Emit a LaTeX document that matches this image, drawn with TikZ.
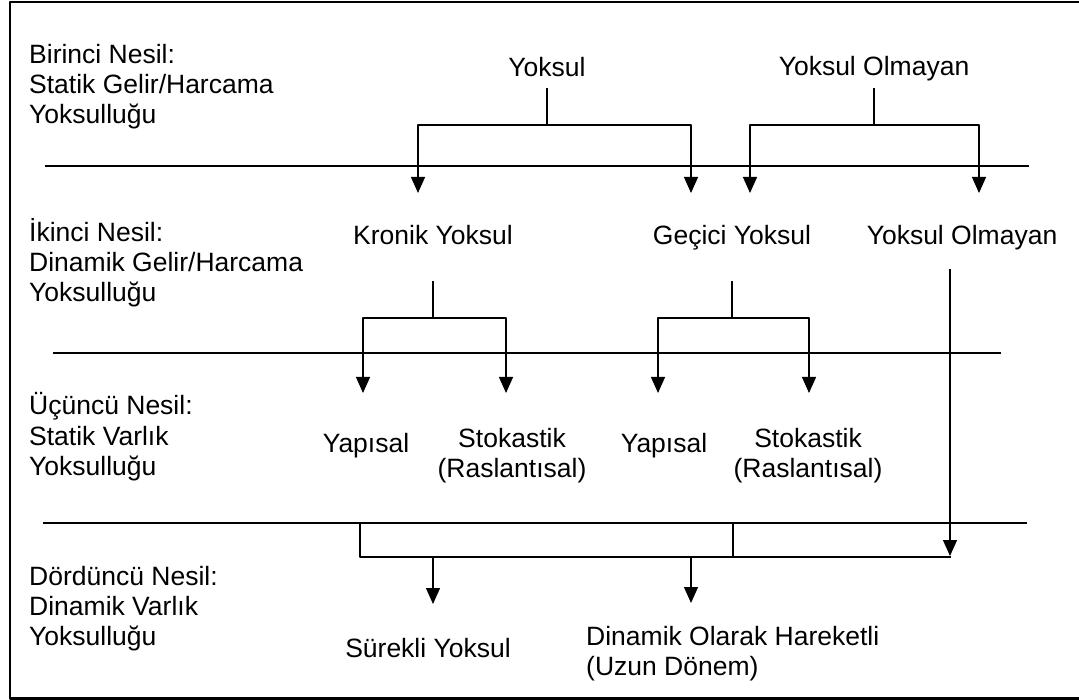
\documentclass[tikz,border=0pt]{standalone}
\usepackage{fontspec}
\setmainfont{Liberation Sans}
\usetikzlibrary{arrows.meta}
\tikzset{
  txt/.style={inner sep=0pt, anchor=base, text depth=0pt},
  stk/.style={inner sep=0pt, anchor=base, align=center},
  lbl/.style={inner sep=0pt, anchor=base west, align=left},
  conn/.style={line width=1.3pt},
  arr/.style={conn, -{Triangle[width=14pt,length=16pt]}},
  sep/.style={line width=1.4pt},
}
\begin{document}
\begin{tikzpicture}[x=1pt, y=-1pt, line join=round, font=\fontsize{26.5}{30}\selectfont]
\useasboundingbox (0,0) rectangle (1079,700);
\draw[line width=2.6pt] (10,2) rectangle (1100,698.5);
% nesil etiketleri (base = son satir)
\node[lbl] (nesil1) at (29,124) {Birinci Nesil:\\Statik Gelir/Harcama\\Yoksulluğu};
\node[lbl] (nesil2) at (29,302) {İkinci Nesil:\\Dinamik Gelir/Harcama\\Yoksulluğu};
\node[lbl] (nesil3) at (29,475) {Üçüncü Nesil:\\Statik Varlık\\Yoksulluğu};
\node[lbl] (nesil4) at (29,645) {Dördüncü Nesil:\\Dinamik Varlık\\Yoksulluğu};
% ayirici cizgiler
\draw[sep] (45,166) -- (1029,166);
\draw[sep] (53,353) -- (1001,353);
\draw[sep] (43,523) -- (1027,523);
% kategoriler
\node[txt] (yoksul) at (547,77) {Yoksul};
\node[txt] (olmayan) at (874,76) {Yoksul Olmayan};
\node[txt] (kronik) at (433,245) {Kronik Yoksul};
\node[txt] (gecici) at (732,245) {Geçici Yoksul};
\node[txt] (olmayanB) at (962,245) {Yoksul Olmayan};
\node[txt] (yapisalA) at (366,453) {Yapısal};
\node[stk] (stokA) at (512,477) {Stokastik\\(Raslantısal)};
\node[txt] (yapisalB) at (664,453) {Yapısal};
\node[stk] (stokB) at (808,477) {Stokastik\\(Raslantısal)};
\node[txt] (surekli) at (428,657) {Sürekli Yoksul};
\node[lbl] (hareketli) at (586,675) {Dinamik Olarak Hareketli\\(Uzun Dönem)};
% birinci -> ikinci nesil
\coordinate (jY) at (yoksul.south |- 0,125);
\coordinate (jO) at (olmayan.south |- 0,125);
\coordinate (tY1) at (418,193);
\coordinate (tY2) at (691,193);
\coordinate (tO1) at (750,193);
\coordinate (tO2) at (979,193);
\draw[conn, shorten <=11pt] (yoksul.south) -- (jY);
\draw[arr] (jY) -| (tY1);
\draw[arr] (jY) -| (tY2);
\draw[conn, shorten <=12pt] (olmayan.south) -- (jO);
\draw[arr] (jO) -| (tO1);
\draw[arr] (jO) -| (tO2);
% ikinci -> ucuncu nesil
\coordinate (jK) at (kronik.south |- 0,318);
\coordinate (jG) at (gecici.south |- 0,318);
\coordinate (tK1) at (363,393);
\coordinate (tK2) at (506,393);
\coordinate (tG1) at (658,393);
\coordinate (tG2) at (809,393);
\draw[conn, shorten <=36pt] (kronik.south) -- (jK);
\draw[arr] (jK) -| (tK1);
\draw[arr] (jK) -| (tK2);
\draw[conn, shorten <=36pt] (gecici.south) -- (jG);
\draw[arr] (jG) -| (tG1);
\draw[arr] (jG) -| (tG2);
% dorduncu nesil
\coordinate (oT) at (950,269);
\coordinate (oB) at (950,556);
\coordinate (dA) at (360,523);
\coordinate (dB) at (733,523);
\coordinate (dR) at (951,557);
\coordinate (tS) at (433,604);
\coordinate (tH) at (691,603);
\draw[arr] (oT) -- (oB);
\draw[conn] (dA) |- (dR);
\draw[conn] (dB) -- (dB |- dR);
\draw[arr] (tS |- dR) -- (tS);
\draw[arr] (tH |- dR) -- (tH);
\end{tikzpicture}
\end{document}
